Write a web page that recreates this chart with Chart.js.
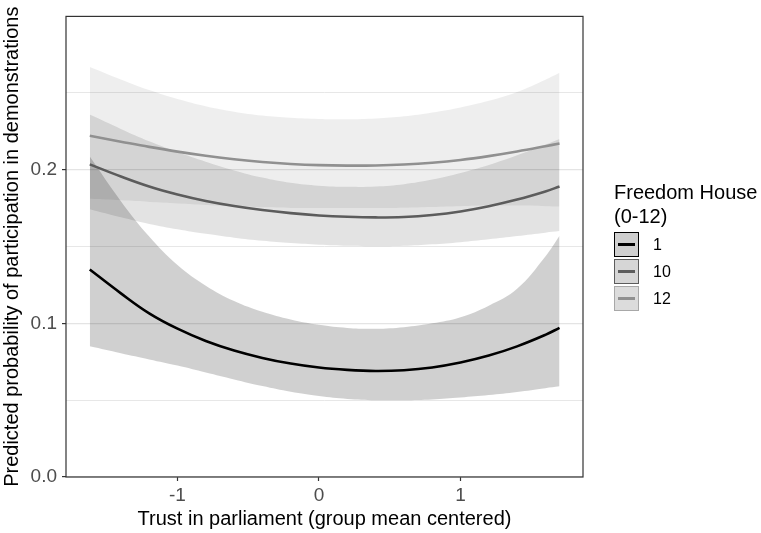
<!DOCTYPE html>
<html>
<head>
<meta charset="utf-8">
<script src="https://cdn.jsdelivr.net/npm/chart.js@4/dist/chart.umd.min.js"></script>
<style>
  html, body { margin: 0; padding: 0; background: #fff; }
  #wrap { position: relative; width: 761px; height: 533px; }
  #legend { position: absolute; left: 614px; top: 180px; font-family: "Liberation Sans", Arial, sans-serif; color: #000; }
  #legend .title { font-size: 20px; line-height: 24px; }
  #legend .item { display: flex; align-items: center; height: 27px; margin: 0; }
  #legend .key { position: relative; width: 23px; height: 23px; border: 1px solid; background: #d2d2d2; box-sizing: content-box; }
  #legend .key span { position: absolute; left: 3px; right: 3px; top: 10px; height: 3px; }
  #legend .lbl { font-size: 16px; margin-left: 14px; color: #000; }
</style>
</head>
<body>
<div id="wrap">
  <canvas id="c" width="761" height="533"></canvas>
  <div id="legend">
    <div class="title">Freedom House<br>(0-12)</div>
    <div style="height:3px"></div>
    <div class="item"><div class="key" style="border-color:#000;background:#cfcfcf"><span style="background:#000"></span></div><div class="lbl">1</div></div>
    <div class="item"><div class="key" style="border-color:#5c5c5c;background:#d6d6d6"><span style="background:#5c5c5c"></span></div><div class="lbl">10</div></div>
    <div class="item"><div class="key" style="border-color:#a8a8a8;background:#dcdcdc"><span style="background:#909090"></span></div><div class="lbl">12</div></div>
  </div>
</div>
<script>
// x values: trust in parliament (group mean centered)
const trust = [-1.62, -1.4, -1.2, -1.0, -0.8, -0.6, -0.4, -0.2, 0, 0.2, 0.4, 0.6, 0.8, 1.0, 1.2, 1.4, 1.6, 1.7];

// Freedom House = 1
const fh1 = [0.135, 0.1195, 0.1065, 0.0965, 0.0885, 0.0823, 0.0775, 0.0738, 0.0712, 0.0697, 0.069, 0.0695, 0.0713, 0.0745, 0.079, 0.085, 0.0925, 0.097];
const fh1Lower = [0.085, 0.0805, 0.0765, 0.0725, 0.068, 0.0635, 0.0592, 0.0555, 0.0527, 0.0508, 0.050, 0.050, 0.0505, 0.0517, 0.0533, 0.0553, 0.0578, 0.059];
const fh1Upper = [0.2085, 0.1795, 0.1565, 0.138, 0.1245, 0.1145, 0.1075, 0.1025, 0.099, 0.097, 0.0965, 0.0975, 0.100, 0.104, 0.1115, 0.1225, 0.1435, 0.157];

// Freedom House = 10
const fh10 = [0.2034, 0.1955, 0.189, 0.1838, 0.1796, 0.1763, 0.1737, 0.1717, 0.1702, 0.1693, 0.1689, 0.1692, 0.1705, 0.1728, 0.1762, 0.1805, 0.1858, 0.189];
const fh10Lower = [0.1742, 0.169, 0.1647, 0.1612, 0.1582, 0.1557, 0.1537, 0.1522, 0.1511, 0.1504, 0.1501, 0.1504, 0.1514, 0.1528, 0.1547, 0.1568, 0.159, 0.160];
const fh10Upper = [0.2358, 0.2265, 0.2185, 0.2115, 0.2052, 0.1995, 0.1948, 0.1914, 0.1895, 0.1888, 0.189, 0.1905, 0.1935, 0.1978, 0.203, 0.2093, 0.2163, 0.220];

// Freedom House = 12
const fh12 = [0.222, 0.2182, 0.2148, 0.2117, 0.209, 0.2068, 0.205, 0.2037, 0.2029, 0.2026, 0.2027, 0.2033, 0.2045, 0.2063, 0.2088, 0.2118, 0.2152, 0.217];
const fh12Lower = [0.181, 0.18, 0.179, 0.178, 0.177, 0.176, 0.1755, 0.1751, 0.175, 0.175, 0.175, 0.1752, 0.1757, 0.1762, 0.1766, 0.1766, 0.1762, 0.176];
const fh12Upper = [0.2668, 0.2587, 0.2518, 0.246, 0.2413, 0.2377, 0.2352, 0.2337, 0.233, 0.2328, 0.2333, 0.2347, 0.2372, 0.2405, 0.2448, 0.2505, 0.2585, 0.263];

const xTicks = [-1, 0, 1];
const yTicks = [0, 0.05, 0.1, 0.15, 0.2, 0.25];
const yMajor = [0, 0.1, 0.2];

const pts = arr => arr.map((v, i) => ({ x: trust[i], y: v }));
const FONT = '"Liberation Sans", Arial, sans-serif';

function bandPair(lower, upper, fill, idxLower) {
  return [
    { data: pts(lower), borderWidth: 0, borderColor: 'rgba(0,0,0,0)', pointRadius: 0, fill: false, order: 2, tension: 0.4 },
    { data: pts(upper), borderWidth: 0, borderColor: 'rgba(0,0,0,0)', pointRadius: 0, fill: { target: idxLower }, backgroundColor: fill, order: 2, tension: 0.4 }
  ];
}
function lineDs(vals, color) {
  return { data: pts(vals), borderColor: color, borderWidth: 2.6, pointRadius: 0, fill: false, order: 0, tension: 0.4 };
}

const datasets = [
  ...bandPair(fh1Lower, fh1Upper, 'rgba(0,0,0,0.185)', 0),
  ...bandPair(fh10Lower, fh10Upper, 'rgba(0,0,0,0.11)', 2),
  ...bandPair(fh12Lower, fh12Upper, 'rgba(0,0,0,0.065)', 4),
  lineDs(fh1, '#000000'),
  lineDs(fh10, '#5c5c5c'),
  lineDs(fh12, '#909090')
];

const borderPlugin = {
  id: 'panelBorder',
  afterDraw(chart) {
    const a = chart.chartArea, ctx = chart.ctx;
    ctx.save();
    ctx.strokeStyle = '#333333';
    ctx.lineWidth = 1.2;
    ctx.strokeRect(a.left, a.top, a.right - a.left, a.bottom - a.top);
    ctx.restore();
  }
};

new Chart(document.getElementById('c'), {
  type: 'line',
  data: { datasets },
  plugins: [borderPlugin],
  options: {
    responsive: false,
    animation: false,
    devicePixelRatio: 1,
    layout: { padding: { top: 14, right: 178, left: 0, bottom: 0 } },
    plugins: { legend: { display: false }, tooltip: { enabled: false } },
    scales: {
      x: {
        type: 'linear',
        min: -1.788,
        max: 1.866,
        afterBuildTicks: s => { s.ticks = xTicks.map(v => ({ value: v })); },
        afterFit: s => { s.height = 56; },
        ticks: { font: { family: FONT, size: 19 }, color: '#4d4d4d', padding: 3, callback: v => String(v) },
        grid: { drawOnChartArea: false, drawTicks: true, tickLength: 4, tickColor: '#333333', tickWidth: 1.2 },
        border: { display: false },
        title: { display: true, text: 'Trust in parliament (group mean centered)', font: { family: FONT, size: 20 }, color: '#000', padding: { top: 0, bottom: 2 } }
      },
      y: {
        type: 'linear',
        min: 0,
        max: 0.2997,
        afterBuildTicks: s => { s.ticks = yTicks.map(v => ({ value: v })); },
        afterFit: s => { s.width = 66; },
        ticks: {
          font: { family: FONT, size: 19 }, color: '#4d4d4d', padding: 5,
          callback: v => yMajor.some(m => Math.abs(m - v) < 1e-9) ? v.toFixed(1) : ''
        },
        grid: {
          drawOnChartArea: true, drawTicks: true, tickLength: 4,
          color: '#e4e4e4',
          lineWidth: ctx => (yMajor.some(m => Math.abs(m - ctx.tick.value) < 1e-9) ? 1.2 : 0.9),
          tickColor: ctx => (yMajor.some(m => Math.abs(m - ctx.tick.value) < 1e-9) ? '#333333' : 'rgba(0,0,0,0)'),
          tickWidth: 1.2
        },
        border: { display: false },
        title: { display: true, text: 'Predicted probability of participation in demonstrations', font: { family: FONT, size: 20 }, color: '#000', padding: { top: 0, bottom: 0 } }
      }
    }
  }
});
</script>
</body>
</html>
